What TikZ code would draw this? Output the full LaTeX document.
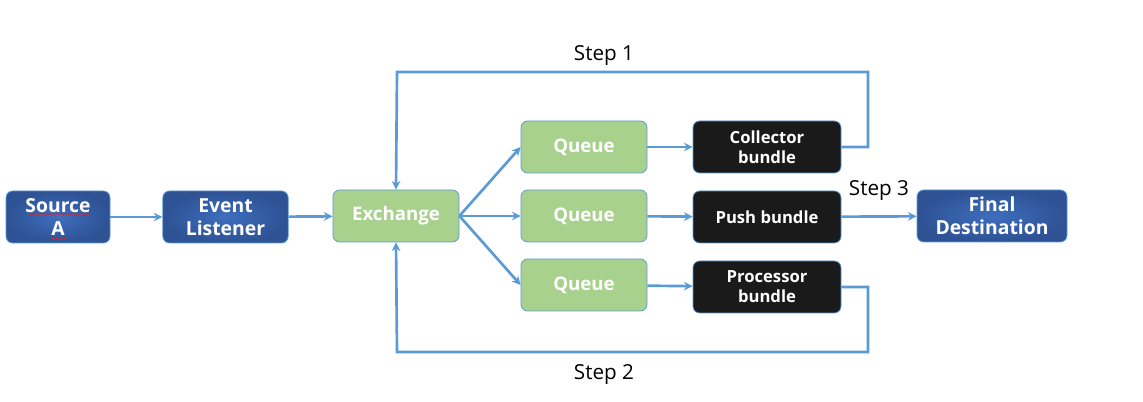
\documentclass[tikz,border=0pt]{standalone}
\usepackage{fontspec}
\setmainfont{Open Sans}
\usepackage{tikz}
\usetikzlibrary{positioning, shadings, arrows.meta, decorations.pathmorphing}
\usepackage{xcolor}
\definecolor{linkblue}{RGB}{91,155,213}
\definecolor{deepblue}{RGB}{46,82,148}
\definecolor{midblue}{RGB}{62,110,190}
\definecolor{leafgreen}{RGB}{169,209,142}
\definecolor{nightblack}{RGB}{26,26,26}
\definecolor{spellred}{RGB}{230,30,30}

\begin{document}
\begin{tikzpicture}[>={Stealth[length=6.5pt, width=6.5pt]}, x=0.75pt, y=-0.75pt]
        \tikzstyle{box}=[rounded corners=5pt, draw=linkblue, line width=0.6pt, text=white, align=center, font=\bfseries, minimum height=39pt, inner sep=1pt]
        \tikzstyle{bluebox}=[box, inner color=midblue, outer color=deepblue, font=\fontsize{14.5}{17}\selectfont\bfseries]
        \tikzstyle{queuebox}=[box, fill=leafgreen, minimum width=94.5pt, font=\fontsize{14}{16}\selectfont\bfseries]
        \tikzstyle{bundlebox}=[box, fill=nightblack, minimum width=111pt, font=\fontsize{12.5}{15}\selectfont\bfseries]
        \tikzstyle{link}=[->, linkblue, line width=2pt]
        \tikzstyle{steplabel}=[font=\fontsize{15.5}{17}\selectfont]

        \useasboundingbox (0,0) rectangle (1143,402);

        % Sources and listener
        \node (source)[bluebox, minimum width=78pt] at (58,217) {Source\\A};
        \node (listener)[bluebox, minimum width=94pt] at (225.5,217) {Event\\Listener};

        % Exchange and queues
        \node (exchange)[queuebox] at (396,216) {Exchange};
        \node (queue1)[queuebox] at (584,147) {Queue};
        \node (queue2)[queuebox] at (584,216) {Queue};
        \node (queue3)[queuebox] at (584,285) {Queue};

        % Bundles
        \node (collector)[bundlebox] at (767,147) {Collector\\bundle};
        \node (push)[bundlebox] at (767,217) {Push bundle};
        \node (processor)[bundlebox] at (767,287) {Processor\\bundle};

        % Destination
        \node (final)[bluebox, minimum width=112.5pt] at (992,216) {Final\\Destination};

        % Spell check squiggles under the source text
        \draw[spellred, line width=0.5pt, decorate, decoration={snake, amplitude=0.6pt, segment length=3pt}]
            (28,214) -- (90,214);
        \draw[spellred, line width=0.5pt, decorate, decoration={snake, amplitude=0.6pt, segment length=3pt}]
            (51,239) -- (66,239);

        % Main flow
        \draw[link] (source) -- (listener);
        \draw[link] (listener) -- (exchange);
        \draw[link] (exchange.east) -- (queue1.west);
        \draw[link] (exchange.east) -- (queue2.west);
        \draw[link] (exchange.east) -- (queue3.west);
        \draw[link] (queue1) -- (collector);
        \draw[link] (queue2) -- (push);
        \draw[link] (queue3) -- (processor);
        \draw[link] (push) -- node[steplabel, black, above=8pt, pos=0.5] {Step 3} (final);

        % Step 1 loop back over the top
        \draw[link] (collector.east) -- (868,147) -- (868,72) -- (397,72) -- (exchange.north);
        \node (step1)[steplabel] at (604,56) {Step 1};

        % Step 2 loop back underneath
        \draw[link] (processor.east) -- (868,287) -- (868,352) -- (397,352) -- (exchange.south);
        \node (step2)[steplabel] at (604,375) {Step 2};
    \end{tikzpicture}
\end{document}
